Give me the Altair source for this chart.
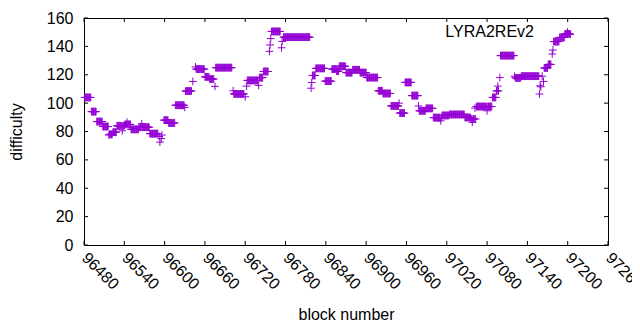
import altair as alt
import pandas as pd

# Runs of consecutive blocks with the same difficulty (start block, end block, value)
run_start = [96481, 96491, 96499, 96508, 96518, 96523, 96529, 96541, 96550, 96562,
             96578, 96599, 96606, 96616, 96631, 96647, 96660, 96667, 96676, 96703,
             96723, 96741, 96747, 96759, 96777, 96820, 96825, 96839, 96849, 96856,
             96860, 96870, 96880, 96891, 96901, 96918, 96925, 96937, 96950, 96958,
             96968, 96979, 96989, 97000, 97013, 97024, 97047, 97056, 97064, 97088,
             97094, 97100, 97122, 97131, 97165, 97171, 97179, 97188, 97196]
run_end = [96490, 96498, 96507, 96516, 96522, 96528, 96540, 96549, 96561, 96577,
           96590, 96605, 96615, 96629, 96640, 96659, 96666, 96673, 96700, 96718,
           96739, 96746, 96754, 96772, 96816, 96824, 96838, 96848, 96855, 96859,
           96869, 96879, 96890, 96900, 96917, 96924, 96936, 96948, 96957, 96967,
           96977, 96988, 96999, 97012, 97023, 97046, 97055, 97063, 97087, 97093,
           97097, 97120, 97130, 97157, 97170, 97175, 97187, 97195, 97203]
run_value = [104, 94, 87, 83.5, 78, 79.5, 84, 85, 81.5, 83,
             78.5, 88, 86, 98.5, 108.5, 124, 118.5, 117, 125, 106.5,
             116, 118, 122.3, 150.5, 146.5, 119.5, 124.5, 115.5, 124, 122.5,
             126, 121.5, 123.5, 121.5, 118, 108.7, 106.8, 98, 93, 114.6,
             105.3, 94.6, 96.3, 89.8, 91.3, 92, 89.9, 88.8, 97.6, 104,
             108.6, 133.5, 117.8, 119, 124.8, 127.3, 143.4, 146.3, 148.8]

# Isolated blocks
single_block = [96517, 96537, 96544, 96566, 96592, 96593, 96595, 96596, 96630, 96642,
                96646, 96675, 96702, 96720, 96722, 96740, 96756, 96757, 96758, 96774,
                96775, 96818, 96819, 96949, 96978, 97011, 97058, 97062, 97080, 97096,
                97099, 97121, 97158, 97159, 97160, 97162, 97164, 97177, 97178, 97204]
single_value = [77.5, 80.5, 86.5, 85.5, 76.5, 72.5, 75, 77.5, 97, 115.3,
                125.5, 111.8, 108.7, 104.5, 112, 112.5, 136.5, 141, 145.5, 139,
                143.5, 110.5, 114.5, 100, 98, 87.5, 86.5, 96.5, 94.6, 112,
                118, 119, 106.4, 112.2, 111.5, 119, 115.3, 134.6, 137.4, 148.5]

x_ticks = [96480, 96540, 96600, 96660, 96720, 96780, 96840, 96900,
           96960, 97020, 97080, 97140, 97200, 97260]
y_ticks = [0, 20, 40, 60, 80, 100, 120, 140, 160]
series_name = "LYRA2REv2"

vals = {}
for s, e, v in zip(run_start, run_end, run_value):
    for b in range(s, e + 1):
        vals[b] = v
for b, v in zip(single_block, single_value):
    vals[b] = v
df = pd.DataFrame(sorted(vals.items()), columns=["block", "difficulty"])

W, H = 524, 227
COLOR = "#9400D3"
FONT = "Liberation Sans"
FS = 16
PLUS = "M-1,0H1M0,-1V1"

xscale = alt.Scale(domain=[96480, 97260], nice=False, zero=False)
yscale = alt.Scale(domain=[0, 160], nice=False, zero=True)

x_axis = alt.Axis(values=x_ticks, format="d", labelAngle=45, labelAlign="left",
                  labelBaseline="middle", labelPadding=10, ticks=False, domain=False,
                  grid=False, title="block number", titleX=W / 2, titleY=69,
                  titleBaseline="middle", titleFontWeight="normal",
                  labelFont=FONT, titleFont=FONT, labelFontSize=FS, titleFontSize=FS,
                  labelColor="black", titleColor="black", labelOverlap=False)
y_axis = alt.Axis(values=y_ticks, ticks=False, domain=False, grid=False,
                  labelPadding=11, title="difficulty", titleX=-68, titleY=H / 2,
                  titleAngle=-90, titleBaseline="middle", titleFontWeight="normal",
                  labelFont=FONT, titleFont=FONT, labelFontSize=FS, titleFontSize=FS,
                  labelColor="black", titleColor="black")

x_enc = alt.X("block:Q", scale=xscale, axis=x_axis)
y_enc = alt.Y("difficulty:Q", scale=yscale, axis=y_axis)

points = alt.Chart(df).mark_point(shape=PLUS, size=60, filled=False, strokeWidth=1,
                                  color=COLOR, opacity=1).encode(x=x_enc, y=y_enc)

xt = pd.DataFrame({"block": x_ticks})
yt = pd.DataFrame({"difficulty": y_ticks})
bottom_ticks = alt.Chart(xt).mark_rule(color="black", strokeWidth=1).encode(
    x=x_enc, y=alt.value(H), y2=alt.value(H - 4))
top_ticks = alt.Chart(xt).mark_rule(color="black", strokeWidth=1).encode(
    x=x_enc, y=alt.value(0), y2=alt.value(4))
left_ticks = alt.Chart(yt).mark_rule(color="black", strokeWidth=1).encode(
    y=y_enc, x=alt.value(0), x2=alt.value(4))
right_ticks = alt.Chart(yt).mark_rule(color="black", strokeWidth=1).encode(
    y=y_enc, x=alt.value(W), x2=alt.value(W - 4))

key_df = pd.DataFrame({"label": [series_name]})
key_text = alt.Chart(key_df).mark_text(align="right", baseline="middle", font=FONT,
                                       fontSize=FS, color="black").encode(
    x=alt.value(450), y=alt.value(14), text="label:N")
key_pt = alt.Chart(key_df).mark_point(shape=PLUS, size=60, filled=False, strokeWidth=1,
                                      color=COLOR, opacity=1).encode(
    x=alt.value(483.5), y=alt.value(14))

chart = alt.layer(points, bottom_ticks, top_ticks, left_ticks, right_ticks,
                  key_text, key_pt).properties(
    width=W, height=H,
    autosize=alt.AutoSizeParams(type="none"),
    padding={"left": 76, "top": 10, "right": 24, "bottom": 77},
    background="white",
).configure_view(stroke="black", strokeWidth=1)

chart.save("out.html", embed_options={"renderer": "svg", "actions": False})
